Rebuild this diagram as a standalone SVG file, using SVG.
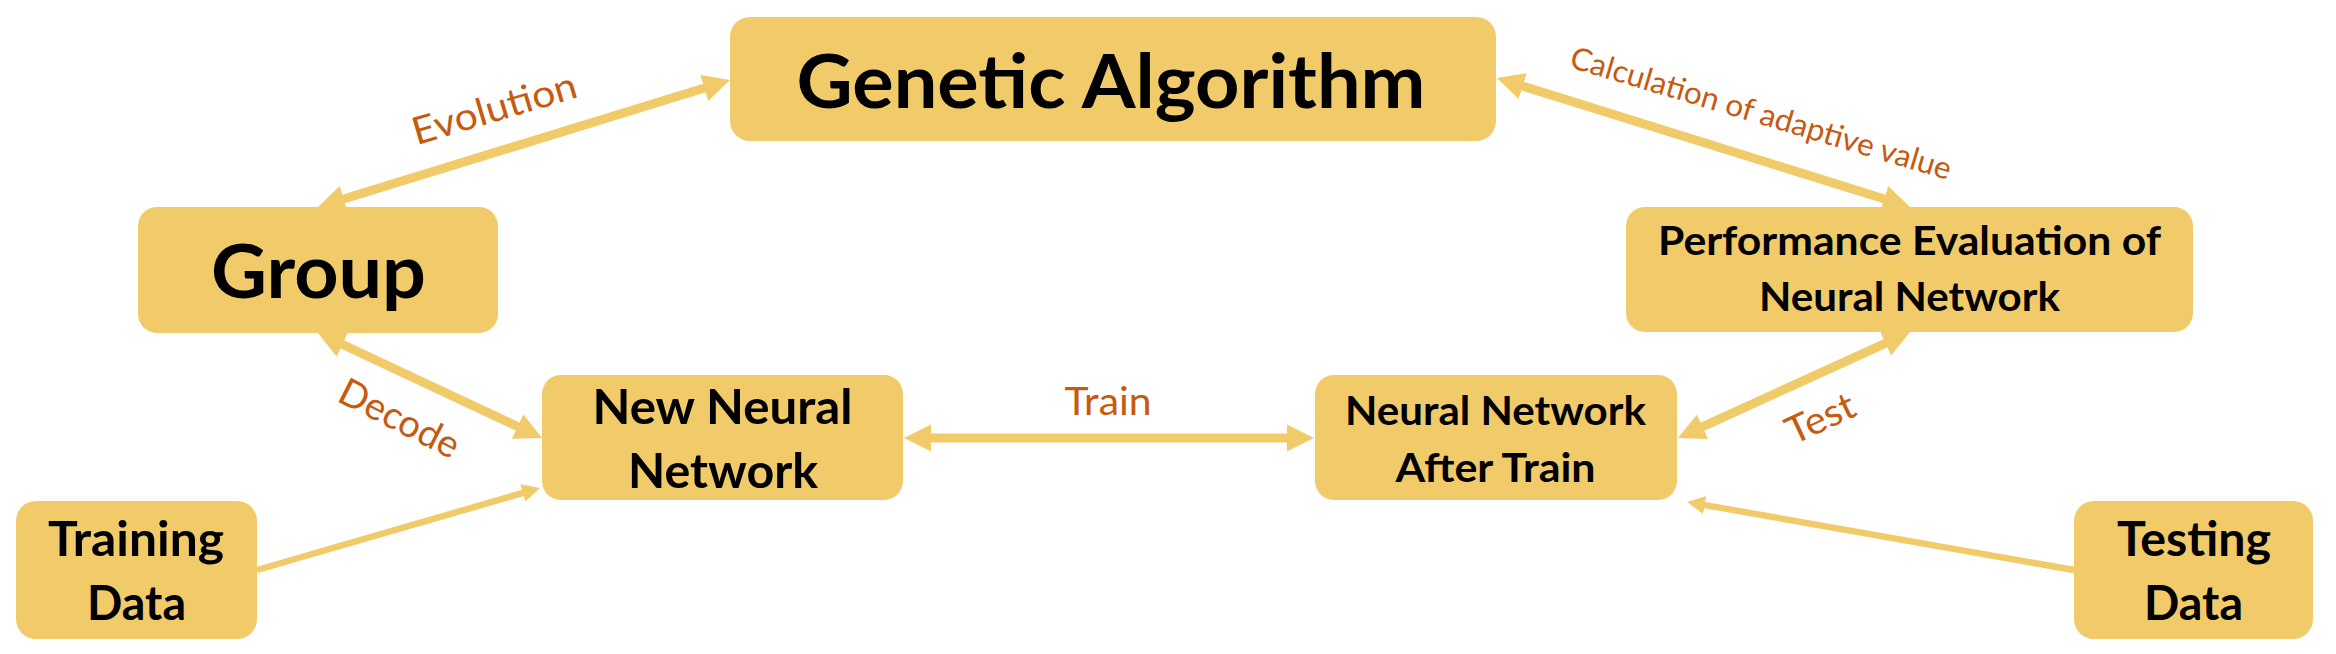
<svg xmlns="http://www.w3.org/2000/svg" width="2336" height="654" viewBox="0 0 2336 654">
<style>
.box{fill:#F1CB69;}
.nt{font-family:Lato,"Open Sans","Noto Sans",sans-serif;font-weight:bold;fill:#000;text-anchor:middle;}
.lb{font-family:Lato,"Open Sans","Noto Sans",sans-serif;fill:#C55A11;text-anchor:middle;}
.thick{stroke:#F1CB69;stroke-width:9;fill:none;marker-start:url(#hb);marker-end:url(#hb);}
.thin{stroke:#F1CB69;stroke-width:6.5;fill:none;marker-end:url(#hs);}
</style>
<defs>
<marker id="hb" markerUnits="userSpaceOnUse" viewBox="0 0 28 28" markerWidth="28" markerHeight="28" refX="1" refY="14" orient="auto-start-reverse">
<path d="M0,0.5 L27,14 L0,27.5 z" fill="#F1CB69"/>
</marker>
<marker id="hs" markerUnits="userSpaceOnUse" viewBox="0 0 20 20" markerWidth="20" markerHeight="20" refX="1" refY="10" orient="auto">
<path d="M0,1 L18,10 L0,19 z" fill="#F1CB69"/>
</marker>
</defs>
<rect width="2336" height="654" fill="#fff"/>
<g id="connectors">
<line class="thick" x1="342.8" y1="199.3" x2="705.2" y2="87.7"/>
<line class="thick" x1="1521.8" y1="85.75" x2="1885.2" y2="199.25"/>
<line class="thick" x1="341.5" y1="344" x2="518.5" y2="427"/>
<line class="thick" x1="930" y1="438" x2="1288" y2="438"/>
<line class="thick" x1="1886.4" y1="342.8" x2="1701.6" y2="427.2"/>
<line class="thin" x1="257" y1="570" x2="523.7" y2="492.7"/>
<line class="thin" x1="2074" y1="570" x2="1703.7" y2="504.9"/>
<text class="lb" x="498" y="121" font-size="38" textLength="170" lengthAdjust="spacingAndGlyphs" transform="rotate(-16.5 498 121)">Evolution</text>
<text class="lb" x="1758" y="123.5" font-size="31" textLength="396" lengthAdjust="spacingAndGlyphs" transform="rotate(16.6 1758 123.5)">Calculation of adaptive value</text>
<text class="lb" x="393.5" y="430" font-size="38" textLength="130" lengthAdjust="spacingAndGlyphs" transform="rotate(27 393.5 430)">Decode</text>
<text class="lb" x="1108" y="415" font-size="38" textLength="87" lengthAdjust="spacingAndGlyphs">Train</text>
<text class="lb" x="1826" y="430" font-size="38" textLength="72" lengthAdjust="spacingAndGlyphs" transform="rotate(-25 1826 430)">Test</text>
</g>
<g id="genetic-algorithm">
<rect class="box" x="730" y="17" width="766" height="124" rx="20"/>
<text class="nt" x="1111" y="107.5" font-size="75" textLength="629" lengthAdjust="spacingAndGlyphs">Genetic Algorithm</text>
</g>
<g id="group">
<rect class="box" x="138" y="207" width="360" height="126" rx="19"/>
<text class="nt" x="318.5" y="298" font-size="75" textLength="215" lengthAdjust="spacingAndGlyphs">Group</text>
</g>
<g id="new-neural-network">
<rect class="box" x="542" y="375" width="361" height="125" rx="19"/>
<text class="nt" x="722.5" y="424" font-size="48" textLength="260" lengthAdjust="spacingAndGlyphs">New Neural</text>
<text class="nt" x="723" y="488" font-size="48" textLength="190" lengthAdjust="spacingAndGlyphs">Network</text>
</g>
<g id="neural-network-after-train">
<rect class="box" x="1315" y="375" width="362" height="125" rx="19"/>
<text class="nt" x="1495.5" y="425" font-size="41" textLength="301" lengthAdjust="spacingAndGlyphs">Neural Network</text>
<text class="nt" x="1495.5" y="482" font-size="41" textLength="200" lengthAdjust="spacingAndGlyphs">After Train</text>
</g>
<g id="performance-evaluation">
<rect class="box" x="1626" y="207" width="567" height="125" rx="19"/>
<text class="nt" x="1909.5" y="255" font-size="41" textLength="503" lengthAdjust="spacingAndGlyphs">Performance Evaluation of</text>
<text class="nt" x="1909.5" y="311" font-size="41" textLength="301" lengthAdjust="spacingAndGlyphs">Neural Network</text>
</g>
<g id="training-data">
<rect class="box" x="16" y="501" width="241" height="138" rx="20"/>
<text class="nt" x="136" y="555.5" font-size="47" textLength="176" lengthAdjust="spacingAndGlyphs">Training</text>
<text class="nt" x="136.5" y="620" font-size="47" textLength="99" lengthAdjust="spacingAndGlyphs">Data</text>
</g>
<g id="testing-data">
<rect class="box" x="2074" y="501" width="239" height="138" rx="20"/>
<text class="nt" x="2194" y="555.5" font-size="47" textLength="154" lengthAdjust="spacingAndGlyphs">Testing</text>
<text class="nt" x="2193.5" y="620" font-size="47" textLength="99" lengthAdjust="spacingAndGlyphs">Data</text>
</g>
</svg>
